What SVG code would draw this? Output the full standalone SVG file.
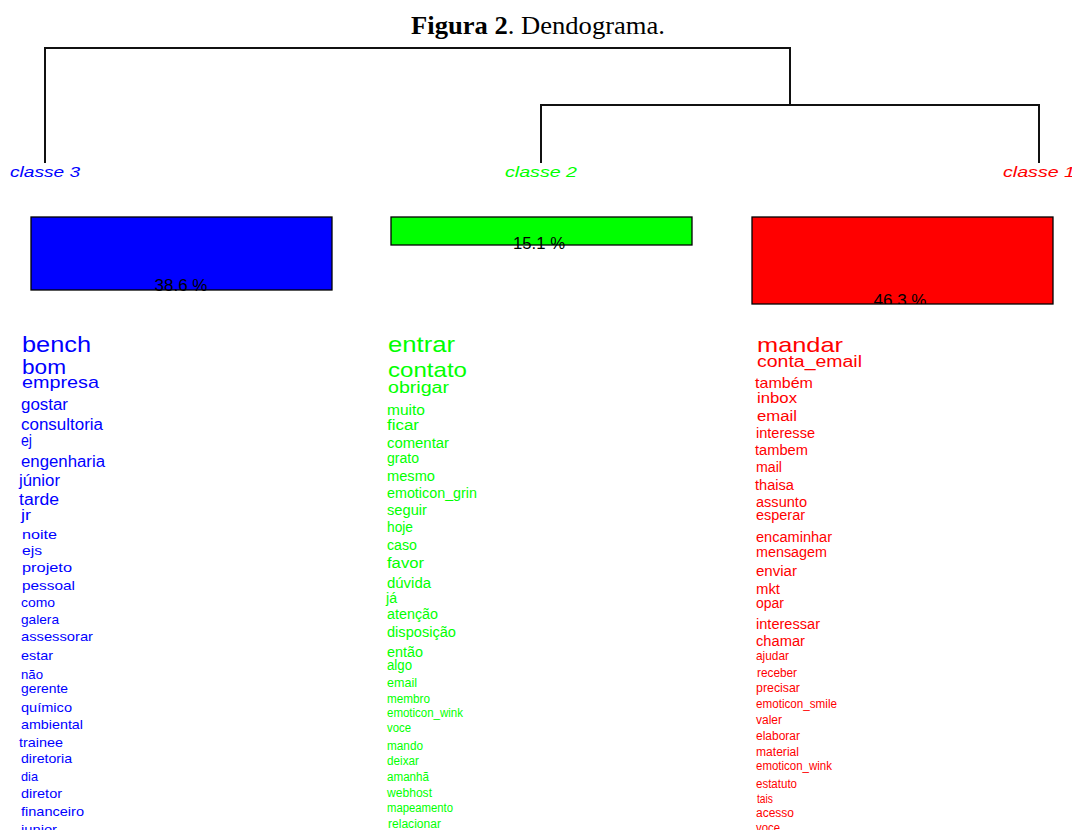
<svg xmlns="http://www.w3.org/2000/svg" width="1072" height="830" viewBox="0 0 1072 830">
<defs>
<style>
text{font-family:"Liberation Sans",Arial,sans-serif}
.title{font-family:"Liberation Serif","Times New Roman",serif;font-size:26px;fill:#000}
.lbl{font-style:italic;font-size:14px}
.pct{font-size:17px;fill:#000;text-anchor:middle}
.box{stroke:#000;stroke-width:1.3}
.c3{fill:#0000ff}
.c2{fill:#00ff00}
.c1{fill:#ff0000}
.link{fill:none;stroke:#111;stroke-width:2}
</style>
<clipPath id="clipRed"><rect x="740" y="200" width="332" height="104"/></clipPath>
</defs>
<rect width="1072" height="830" fill="#fff"/>
<text id="title" class="title" x="538" y="34" text-anchor="middle" textLength="254" lengthAdjust="spacingAndGlyphs"><tspan font-weight="bold">Figura 2</tspan>. Dendograma.</text>

<g id="connectors">
<path class="link" d="M45,163 V48 H790 V105"/>
<path class="link" d="M541,163 V105 H1039 V163"/>
</g>

<g id="classe3">
<text class="lbl c3" x="45" y="177" text-anchor="middle" textLength="70" lengthAdjust="spacingAndGlyphs">classe 3</text>
<rect class="box c3" x="31" y="217" width="301" height="73"/>
<text class="pct" x="181" y="291" textLength="53" lengthAdjust="spacingAndGlyphs">38.6 %</text>
<g class="c3">
<text x="22" y="352" font-size="22" textLength="69" lengthAdjust="spacingAndGlyphs">bench</text>
<text x="22" y="374" font-size="20" textLength="44" lengthAdjust="spacingAndGlyphs">bom</text>
<text x="22" y="388" font-size="17" textLength="77" lengthAdjust="spacingAndGlyphs">empresa</text>
<text x="21" y="410" font-size="16" textLength="47" lengthAdjust="spacingAndGlyphs">gostar</text>
<text x="21" y="430" font-size="16" textLength="82" lengthAdjust="spacingAndGlyphs">consultoria</text>
<text x="21" y="446" font-size="16" textLength="11" lengthAdjust="spacingAndGlyphs">ej</text>
<text x="21" y="467" font-size="16" textLength="84" lengthAdjust="spacingAndGlyphs">engenharia</text>
<text x="19" y="486" font-size="16" textLength="41" lengthAdjust="spacingAndGlyphs">júnior</text>
<text x="19" y="505" font-size="16" textLength="40" lengthAdjust="spacingAndGlyphs">tarde</text>
<text x="21" y="520" font-size="14" textLength="10" lengthAdjust="spacingAndGlyphs">jr</text>
<text x="22" y="539" font-size="13" textLength="35" lengthAdjust="spacingAndGlyphs">noite</text>
<text x="22" y="555" font-size="13" textLength="20" lengthAdjust="spacingAndGlyphs">ejs</text>
<text x="22" y="572" font-size="13" textLength="50" lengthAdjust="spacingAndGlyphs">projeto</text>
<text x="22" y="590" font-size="13" textLength="53" lengthAdjust="spacingAndGlyphs">pessoal</text>
<text x="21" y="607" font-size="13" textLength="34" lengthAdjust="spacingAndGlyphs">como</text>
<text x="21" y="624" font-size="13" textLength="38" lengthAdjust="spacingAndGlyphs">galera</text>
<text x="21" y="641" font-size="13" textLength="72" lengthAdjust="spacingAndGlyphs">assessorar</text>
<text x="21" y="660" font-size="13" textLength="32" lengthAdjust="spacingAndGlyphs">estar</text>
<text x="21" y="679" font-size="13" textLength="22" lengthAdjust="spacingAndGlyphs">não</text>
<text x="21" y="693" font-size="13" textLength="47" lengthAdjust="spacingAndGlyphs">gerente</text>
<text x="21" y="712" font-size="13" textLength="51" lengthAdjust="spacingAndGlyphs">químico</text>
<text x="21" y="729" font-size="13" textLength="62" lengthAdjust="spacingAndGlyphs">ambiental</text>
<text x="19" y="747" font-size="13" textLength="44" lengthAdjust="spacingAndGlyphs">trainee</text>
<text x="21" y="763" font-size="13" textLength="51" lengthAdjust="spacingAndGlyphs">diretoria</text>
<text x="21" y="781" font-size="13" textLength="17" lengthAdjust="spacingAndGlyphs">dia</text>
<text x="21" y="798" font-size="13" textLength="41" lengthAdjust="spacingAndGlyphs">diretor</text>
<text x="21" y="816" font-size="13" textLength="63" lengthAdjust="spacingAndGlyphs">financeiro</text>
<text x="21" y="834" font-size="13" textLength="36" lengthAdjust="spacingAndGlyphs">junior</text>
</g>
</g>

<g id="classe2">
<text class="lbl c2" x="541" y="177" text-anchor="middle" textLength="72" lengthAdjust="spacingAndGlyphs">classe 2</text>
<rect class="box c2" x="391" y="217" width="301" height="28"/>
<text class="pct" x="539" y="249" textLength="52" lengthAdjust="spacingAndGlyphs">15.1 %</text>
<g class="c2">
<text x="388" y="352" font-size="22" textLength="67" lengthAdjust="spacingAndGlyphs">entrar</text>
<text x="388" y="377" font-size="21" textLength="79" lengthAdjust="spacingAndGlyphs">contato</text>
<text x="388" y="393" font-size="16" textLength="61" lengthAdjust="spacingAndGlyphs">obrigar</text>
<text x="387" y="415" font-size="15" textLength="38" lengthAdjust="spacingAndGlyphs">muito</text>
<text x="387" y="430" font-size="14" textLength="32" lengthAdjust="spacingAndGlyphs">ficar</text>
<text x="387" y="448" font-size="14" textLength="62" lengthAdjust="spacingAndGlyphs">comentar</text>
<text x="387" y="463" font-size="14" textLength="32" lengthAdjust="spacingAndGlyphs">grato</text>
<text x="387" y="481" font-size="14" textLength="48" lengthAdjust="spacingAndGlyphs">mesmo</text>
<text x="387" y="498" font-size="14" textLength="90" lengthAdjust="spacingAndGlyphs">emoticon_grin</text>
<text x="387" y="515" font-size="14" textLength="40" lengthAdjust="spacingAndGlyphs">seguir</text>
<text x="387" y="532" font-size="14" textLength="26" lengthAdjust="spacingAndGlyphs">hoje</text>
<text x="387" y="550" font-size="14" textLength="30" lengthAdjust="spacingAndGlyphs">caso</text>
<text x="387" y="568" font-size="14" textLength="37" lengthAdjust="spacingAndGlyphs">favor</text>
<text x="387" y="588" font-size="14" textLength="44" lengthAdjust="spacingAndGlyphs">dúvida</text>
<text x="386" y="603" font-size="14" textLength="11" lengthAdjust="spacingAndGlyphs">já</text>
<text x="387" y="619" font-size="14" textLength="51" lengthAdjust="spacingAndGlyphs">atenção</text>
<text x="387" y="637" font-size="14" textLength="69" lengthAdjust="spacingAndGlyphs">disposição</text>
<text x="387" y="657" font-size="14" textLength="36" lengthAdjust="spacingAndGlyphs">então</text>
<text x="387" y="670" font-size="14" textLength="25" lengthAdjust="spacingAndGlyphs">algo</text>
<text x="387" y="687" font-size="13" textLength="30" lengthAdjust="spacingAndGlyphs">email</text>
<text x="387" y="703" font-size="13" textLength="43" lengthAdjust="spacingAndGlyphs">membro</text>
<text x="387" y="717" font-size="12" textLength="76" lengthAdjust="spacingAndGlyphs">emoticon_wink</text>
<text x="387" y="732" font-size="12" textLength="24" lengthAdjust="spacingAndGlyphs">voce</text>
<text x="387" y="750" font-size="12" textLength="36" lengthAdjust="spacingAndGlyphs">mando</text>
<text x="387" y="765" font-size="12" textLength="32" lengthAdjust="spacingAndGlyphs">deixar</text>
<text x="387" y="781" font-size="12" textLength="42" lengthAdjust="spacingAndGlyphs">amanhã</text>
<text x="387" y="797" font-size="12" textLength="45" lengthAdjust="spacingAndGlyphs">webhost</text>
<text x="387" y="812" font-size="12" textLength="66" lengthAdjust="spacingAndGlyphs">mapeamento</text>
<text x="388" y="828" font-size="12" textLength="53" lengthAdjust="spacingAndGlyphs">relacionar</text>
</g>
</g>

<g id="classe1">
<text class="lbl c1" x="1039" y="177" text-anchor="middle" textLength="72" lengthAdjust="spacingAndGlyphs">classe 1</text>
<rect class="box c1" x="752" y="217" width="301" height="87"/>
<text class="pct" x="900" y="306" textLength="53" lengthAdjust="spacingAndGlyphs" clip-path="url(#clipRed)">46.3 %</text>
<g class="c1">
<text x="757" y="352" font-size="21" textLength="86" lengthAdjust="spacingAndGlyphs">mandar</text>
<text x="757" y="367" font-size="16" textLength="105" lengthAdjust="spacingAndGlyphs">conta_email</text>
<text x="755" y="388" font-size="15" textLength="58" lengthAdjust="spacingAndGlyphs">também</text>
<text x="757" y="403" font-size="14" textLength="40" lengthAdjust="spacingAndGlyphs">inbox</text>
<text x="757" y="421" font-size="14" textLength="40" lengthAdjust="spacingAndGlyphs">email</text>
<text x="756" y="438" font-size="14" textLength="59" lengthAdjust="spacingAndGlyphs">interesse</text>
<text x="755" y="455" font-size="14" textLength="53" lengthAdjust="spacingAndGlyphs">tambem</text>
<text x="756" y="472" font-size="14" textLength="26" lengthAdjust="spacingAndGlyphs">mail</text>
<text x="755" y="490" font-size="14" textLength="39" lengthAdjust="spacingAndGlyphs">thaisa</text>
<text x="756" y="507" font-size="14" textLength="51" lengthAdjust="spacingAndGlyphs">assunto</text>
<text x="756" y="520" font-size="14" textLength="49" lengthAdjust="spacingAndGlyphs">esperar</text>
<text x="756" y="542" font-size="14" textLength="76" lengthAdjust="spacingAndGlyphs">encaminhar</text>
<text x="756" y="557" font-size="14" textLength="71" lengthAdjust="spacingAndGlyphs">mensagem</text>
<text x="756" y="576" font-size="14" textLength="41" lengthAdjust="spacingAndGlyphs">enviar</text>
<text x="756" y="594" font-size="14" textLength="24" lengthAdjust="spacingAndGlyphs">mkt</text>
<text x="756" y="608" font-size="14" textLength="28" lengthAdjust="spacingAndGlyphs">opar</text>
<text x="756" y="629" font-size="14" textLength="64" lengthAdjust="spacingAndGlyphs">interessar</text>
<text x="756" y="646" font-size="14" textLength="49" lengthAdjust="spacingAndGlyphs">chamar</text>
<text x="756" y="660" font-size="13" textLength="33" lengthAdjust="spacingAndGlyphs">ajudar</text>
<text x="757" y="677" font-size="12" textLength="40" lengthAdjust="spacingAndGlyphs">receber</text>
<text x="756" y="692" font-size="13" textLength="44" lengthAdjust="spacingAndGlyphs">precisar</text>
<text x="756" y="708" font-size="12" textLength="81" lengthAdjust="spacingAndGlyphs">emoticon_smile</text>
<text x="756" y="724" font-size="12" textLength="26" lengthAdjust="spacingAndGlyphs">valer</text>
<text x="756" y="740" font-size="12" textLength="44" lengthAdjust="spacingAndGlyphs">elaborar</text>
<text x="756" y="756" font-size="12" textLength="43" lengthAdjust="spacingAndGlyphs">material</text>
<text x="756" y="770" font-size="12" textLength="76" lengthAdjust="spacingAndGlyphs">emoticon_wink</text>
<text x="756" y="788" font-size="12" textLength="41" lengthAdjust="spacingAndGlyphs">estatuto</text>
<text x="757" y="803" font-size="12" textLength="16" lengthAdjust="spacingAndGlyphs">tais</text>
<text x="756" y="817" font-size="12" textLength="38" lengthAdjust="spacingAndGlyphs">acesso</text>
<text x="756" y="832" font-size="12" textLength="24" lengthAdjust="spacingAndGlyphs">voce</text>
</g>
</g>
</svg>
